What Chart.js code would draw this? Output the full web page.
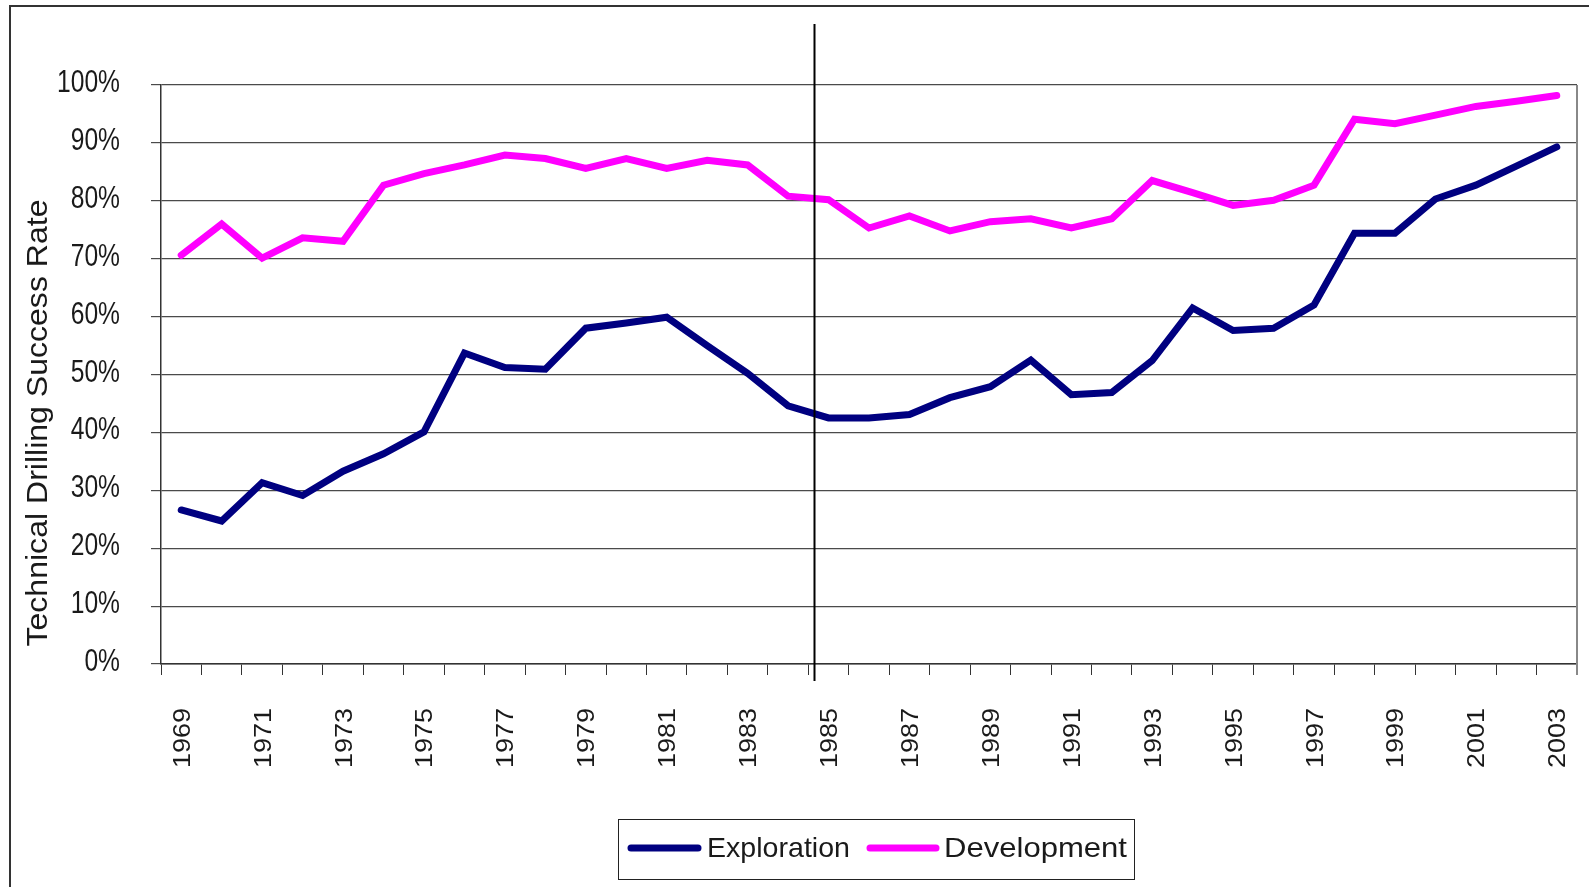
<!DOCTYPE html>
<html><head><meta charset="utf-8">
<script src="https://cdn.jsdelivr.net/npm/chart.js@4.4.1/dist/chart.umd.min.js"></script>
<style>html,body{margin:0;padding:0;background:#fff;overflow:hidden}canvas{display:block}</style>
</head><body><canvas id="c" width="1589" height="887"></canvas>
<script>
const years = ['1969','1970','1971','1972','1973','1974','1975','1976','1977','1978','1979','1980','1981','1982','1983','1984','1985','1986','1987','1988','1989','1990','1991','1992','1993','1994','1995','1996','1997','1998','1999','2000','2001','2002','2003'];
const exploration = [26.6,24.7,31.3,29.1,33.3,36.3,40.1,53.7,51.2,50.9,58.0,58.9,59.9,55.0,50.2,44.6,42.5,42.5,43.1,46.0,47.9,52.5,46.5,46.9,52.4,61.5,57.6,58.0,62.0,74.4,74.4,80.3,82.7,86.0,89.3];
const development = [70.6,76.0,70.1,73.6,73.0,82.7,84.7,86.2,87.9,87.3,85.6,87.3,85.6,87.0,86.2,80.8,80.2,75.3,77.4,74.8,76.4,76.9,75.3,76.9,83.5,81.4,79.2,80.1,82.7,94.1,93.3,94.8,96.3,97.2,98.2];
const yTickLabels = ['0%','10%','20%','30%','40%','50%','60%','70%','80%','90%','100%'];
const seriesNames = ['Exploration','Development'];
const yTitle = 'Technical Drilling Success Rate';
const yMin = 0, yMax = 100, yStep = 10;
const dividerIndex = 15.64;

const FONT = "'Liberation Sans', Arial, sans-serif";
const TEXT = '#1a1a1a';

// draw text squeezed horizontally to a target width (narrow look of the original)
function squeezed(ctx, text, x, y, size, sx, align, rot) {
  ctx.save();
  ctx.font = size + 'px ' + FONT;
  ctx.fillStyle = TEXT;
  ctx.translate(x, y);
  if (rot) ctx.rotate(rot);
  ctx.scale(sx, 1);
  ctx.textAlign = align; ctx.textBaseline = 'alphabetic';
  ctx.fillText(text, 0, 0);
  ctx.restore();
}
function scaleFor(ctx, text, size, target) {
  ctx.save(); ctx.font = size + 'px ' + FONT;
  const w = ctx.measureText(text).width; ctx.restore();
  return target / w;
}

const decor = {
  id: 'decor',
  beforeDraw(chart) {
    const ctx = chart.ctx;
    ctx.save(); ctx.fillStyle = '#fff'; ctx.fillRect(0, 0, chart.width, chart.height); ctx.restore();
  },
  afterDraw(chart) {
    const ctx = chart.ctx, a = chart.chartArea, xs = chart.scales.x, ys = chart.scales.y;
    ctx.save();
    // outer frame (left + top)
    ctx.strokeStyle = '#333'; ctx.lineWidth = 2;
    ctx.beginPath(); ctx.moveTo(10, chart.height); ctx.lineTo(10, 6); ctx.lineTo(chart.width, 6); ctx.stroke();
    // plot right border
    ctx.strokeStyle = '#888'; ctx.lineWidth = 2;
    ctx.beginPath(); ctx.moveTo(a.right, a.top); ctx.lineTo(a.right, a.bottom + 11); ctx.stroke();
    // divider line
    const dx = Math.round(xs.getPixelForValue(dividerIndex)) + 0.5;
    ctx.strokeStyle = '#000'; ctx.lineWidth = 2;
    ctx.beginPath(); ctx.moveTo(dx, 24); ctx.lineTo(dx, 681); ctx.stroke();
    ctx.restore();

    // y tick labels
    const syY = scaleFor(ctx, '100%', 32, 63);
    ys.ticks.forEach((t) => {
      const y = ys.getPixelForValue(t.value);
      const lbl = yTickLabels[Math.round((t.value - yMin) / yStep)];
      squeezed(ctx, lbl, 120, y + 7, 32, syY, 'right', 0);
    });
    // x tick labels (every other year)
    const sxX = scaleFor(ctx, '1969', 24, 60);
    years.forEach((yr, i) => {
      if (i % 2) return;
      const x = xs.getPixelForValue(i);
      squeezed(ctx, yr, x + 8.5, 708, 24, sxX, 'right', -Math.PI / 2);
    });
    // y title
    const sT = scaleFor(ctx, yTitle, 29, 447);
    squeezed(ctx, yTitle, 47, 423, 29, sT, 'center', -Math.PI / 2);

    // legend
    ctx.save();
    ctx.strokeStyle = '#222'; ctx.lineWidth = 1;
    ctx.strokeRect(618.5, 819.5, 516, 60);
    const items = [{x0: 631, x1: 698, tx: 707, w: 143}, {x0: 870, x1: 936, tx: 944, w: 183}];
    chart.data.datasets.forEach((d, i) => {
      const it = items[i];
      ctx.strokeStyle = d.borderColor; ctx.lineWidth = 7; ctx.lineCap = 'round';
      ctx.beginPath(); ctx.moveTo(it.x0, 848); ctx.lineTo(it.x1, 848); ctx.stroke();
      squeezed(ctx, d.label, it.tx, 857, 28, scaleFor(ctx, d.label, 28, it.w), 'left', 0);
    });
    ctx.restore();
  }
};

new Chart(document.getElementById('c'), {
  type: 'line',
  data: {
    labels: years,
    datasets: [
      {label: seriesNames[0], data: exploration, borderColor: '#000080', backgroundColor: '#000080', borderWidth: 7, pointRadius: 0, tension: 0, borderCapStyle: 'round', borderJoinStyle: 'miter'},
      {label: seriesNames[1], data: development, borderColor: '#FF00FF', backgroundColor: '#FF00FF', borderWidth: 7, pointRadius: 0, tension: 0, borderCapStyle: 'round', borderJoinStyle: 'miter'}
    ]
  },
  options: {
    responsive: false,
    devicePixelRatio: 1,
    animation: false,
    layout: {padding: {top: 85, right: 12, left: 0, bottom: 113}},
    plugins: {legend: {display: false}, tooltip: {enabled: false}},
    scales: {
      x: {
        offset: true,
        grid: {offset: true, drawOnChartArea: false, drawTicks: true, tickLength: 11, color: '#333', lineWidth: 1},
        border: {display: true, color: '#333', width: 1.5},
        ticks: {display: false, autoSkip: false, maxRotation: 0, minRotation: 0},
        afterFit: s => { s.height = 110; s.paddingLeft = 0; s.paddingRight = 0; }
      },
      y: {
        min: yMin, max: yMax,
        grid: {color: '#4a4a4a', lineWidth: 1.2, drawTicks: true, tickLength: 10},
        border: {display: true, color: '#333', width: 1.5},
        ticks: {display: false, stepSize: yStep},
        afterFit: s => { s.width = 161; s.paddingTop = 0; s.paddingBottom = 0; }
      }
    }
  },
  plugins: [decor]
});
</script>
</body></html>
